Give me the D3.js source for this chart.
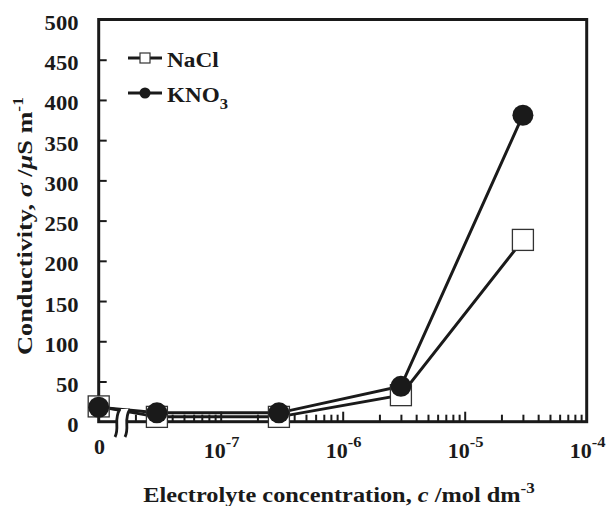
<!DOCTYPE html>
<html>
<head>
<meta charset="utf-8">
<script src="https://cdn.jsdelivr.net/npm/d3@7"></script>
<style>
html,body{margin:0;padding:0;background:#fff;}
svg{display:block;}
text{font-family:"Liberation Serif","Times New Roman",serif;font-weight:bold;fill:#1a1a1a;}
</style>
</head>
<body>
<svg id="chart" width="608" height="506"></svg>
<script>
// ---- data ----
const concentrations = [0, 3e-8, 3e-7, 3e-6, 3e-5];
const naclValues = [19, 6, 6, 33, 226];
const kno3Values = [18, 11, 11, 44, 381];
const yTicks = [0, 50, 100, 150, 200, 250, 300, 350, 400, 450, 500];
const xTickLabels = [
  {v: 1e-8, base: "0", exp: ""},
  {v: 1e-7, base: "10", exp: "-7"},
  {v: 1e-6, base: "10", exp: "-6"},
  {v: 1e-5, base: "10", exp: "-5"},
  {v: 1e-4, base: "10", exp: "-4"}
];

const svg = d3.select("#chart");
const L = 98.7, R = 586.7, T = 19.5, B = 421.7;
const ink = "#1a1a1a";

const x = d3.scaleLog().domain([1e-8, 1e-4]).range([L, R]);
const y = d3.scaleLinear().domain([0, 500]).range([B, T]);
const xPos = c => c === 0 ? x(1e-8) : x(c);

// helper: stretch a text horizontally (in its own frame) to a target width
function fitWidth(sel, target) {
  const w = sel.node().getBBox().width;
  return target / w;
}

// frame
svg.append("rect").attr("x", L).attr("y", T).attr("width", R - L).attr("height", B - T)
  .attr("fill", "none").attr("stroke", ink).attr("stroke-width", 3);

// y ticks (inward)
const gy = svg.append("g").attr("transform", `translate(${L},0)`)
  .call(d3.axisRight(y).tickValues(yTicks.slice(1, -1)).tickSize(8).tickFormat(""));
gy.select(".domain").remove();
gy.selectAll("line").attr("stroke", ink).attr("stroke-width", 2);

// y tick labels
svg.append("g").selectAll("text").data(yTicks).join("text")
  .attr("transform", d => `translate(78.5,${y(d) + 10.5}) scale(1.13,1)`)
  .attr("text-anchor", "end").attr("font-size", 20).text(d => d);

// x ticks (inward, log minor)
const minor = [], major = [];
for (let e = -8; e < -4; e++) {
  for (let m = 1; m <= 9; m++) {
    const v = m * Math.pow(10, e);
    if (m === 1) { if (e > -8) major.push(v); }
    else minor.push(v);
  }
}
const gxMinor = svg.append("g").attr("transform", `translate(0,${B})`)
  .call(d3.axisTop(x).tickValues(minor).tickSize(7).tickFormat(""));
gxMinor.select(".domain").remove();
gxMinor.selectAll("line").attr("stroke", ink).attr("stroke-width", 2);
const gxMajor = svg.append("g").attr("transform", `translate(0,${B})`)
  .call(d3.axisTop(x).tickValues(major).tickSize(10).tickFormat(""));
gxMajor.select(".domain").remove();
gxMajor.selectAll("line").attr("stroke", ink).attr("stroke-width", 2);

// x tick labels
const xl = svg.append("g").selectAll("text").data(xTickLabels).join("text")
  .attr("transform", d => `translate(${x(d.v) + (d.exp ? 1 : 0.8)},${d.exp ? 458 : 454}) scale(1.1,1)`)
  .attr("text-anchor", "middle").attr("font-size", 20);
xl.append("tspan").text(d => d.base);
xl.filter(d => d.exp).append("tspan").attr("font-size", 15).attr("dy", -11).text(d => d.exp);

// lines
const line = d3.line().x((d, i) => xPos(concentrations[i])).y(d => y(d));
svg.append("path").datum(naclValues).attr("d", line)
  .attr("fill", "none").attr("stroke", ink).attr("stroke-width", 3);
svg.append("path").datum(kno3Values).attr("d", line)
  .attr("fill", "none").attr("stroke", ink).attr("stroke-width", 3);

// axis break
const brk = svg.append("g");
brk.append("path")
  .attr("d", "M116,437 C121,427 114,420 121,409 L130,409 C123,420 130,427 125,437 Z")
  .attr("fill", "#fff").attr("stroke", "none");
brk.append("path").attr("d", "M115,437 C120,427 113,420 120,409")
  .attr("fill", "none").attr("stroke", ink).attr("stroke-width", 2.8);
brk.append("path").attr("d", "M125,437 C130,427 123,420 130,409")
  .attr("fill", "none").attr("stroke", ink).attr("stroke-width", 2.8);

// markers
const sq = 21;
svg.append("g").selectAll("rect").data(naclValues).join("rect")
  .attr("x", (d, i) => xPos(concentrations[i]) - sq / 2).attr("y", d => y(d) - sq / 2)
  .attr("width", sq).attr("height", sq)
  .attr("fill", "#fff").attr("stroke", "#333").attr("stroke-width", 1.3);
svg.append("g").selectAll("circle").data(kno3Values).join("circle")
  .attr("cx", (d, i) => xPos(concentrations[i])).attr("cy", d => y(d)).attr("r", 10.5)
  .attr("fill", ink);

// legend
const lg = svg.append("g");
lg.append("line").attr("x1", 128).attr("x2", 162).attr("y1", 58).attr("y2", 58)
  .attr("stroke", ink).attr("stroke-width", 2.8);
lg.append("rect").attr("x", 140).attr("y", 53).attr("width", 10).attr("height", 10)
  .attr("fill", "#fff").attr("stroke", "#333").attr("stroke-width", 1.2);
const nt = lg.append("text").attr("font-size", 21).text("NaCl");
nt.attr("transform", `translate(167,66.5) scale(${fitWidth(nt, 52)},1)`);
lg.append("line").attr("x1", 128).attr("x2", 162).attr("y1", 93).attr("y2", 93)
  .attr("stroke", ink).attr("stroke-width", 2.8);
lg.append("circle").attr("cx", 145).attr("cy", 93).attr("r", 5.5).attr("fill", ink);
const kt = lg.append("text").attr("font-size", 21);
kt.append("tspan").text("KNO");
kt.append("tspan").attr("font-size", 15).attr("dy", 7).text("3");
kt.attr("transform", `translate(167,101.5) scale(${fitWidth(kt, 61)},1)`);

// axis titles
const xt = svg.append("text").attr("text-anchor", "middle").attr("font-size", 20);
xt.append("tspan").text("Electrolyte concentration, ");
xt.append("tspan").attr("font-style", "italic").text("c");
xt.append("tspan").text(" /mol dm");
xt.append("tspan").attr("font-size", 14).attr("dy", -9).text("-3");
xt.attr("transform", `translate(339,502) scale(${fitWidth(xt, 392)},1)`);

const yt = svg.append("text").attr("text-anchor", "middle").attr("font-size", 21);
yt.append("tspan").text("Conductivity, ");
yt.append("tspan").attr("font-style", "italic").text("σ");
yt.append("tspan").text(" /");
yt.append("tspan").attr("font-style", "italic").text("μ");
yt.append("tspan").text("S m");
yt.append("tspan").attr("font-size", 14).attr("dy", -9).text("-1");
yt.attr("transform", `translate(32,226) rotate(-90) scale(${fitWidth(yt, 258)},1)`);
</script>
</body>
</html>
